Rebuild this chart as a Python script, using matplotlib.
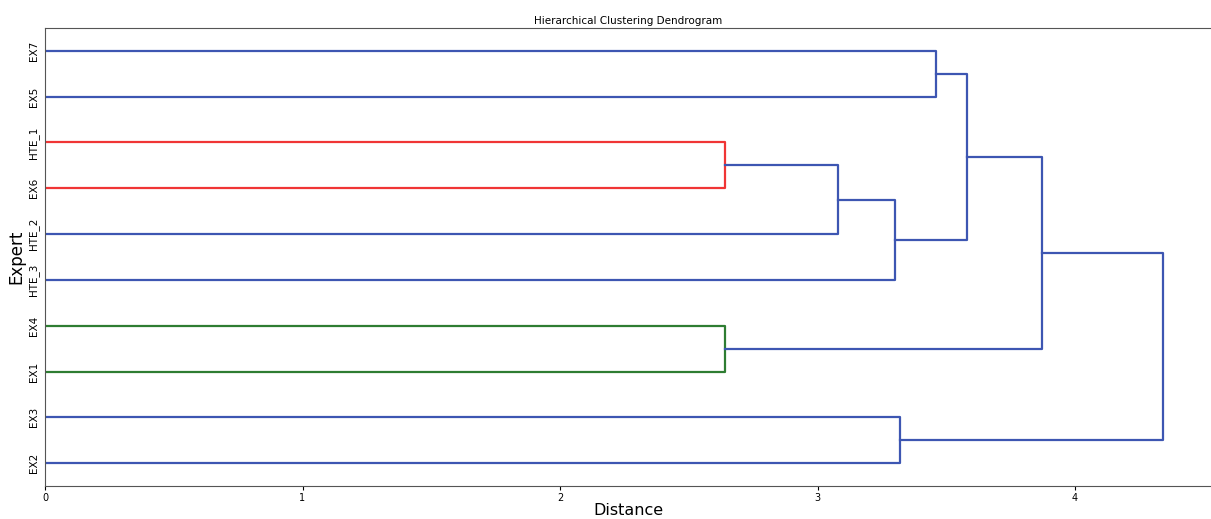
import numpy as np
import matplotlib
matplotlib.use("Agg")
import matplotlib.pyplot as plt

# leaf names (index = leaf id)
labels = ['EX1', 'EX2', 'EX3', 'EX4', 'EX5', 'EX6', 'EX7', 'HTE_1', 'HTE_2', 'HTE_3']

# merges like a linkage matrix: (lower child, upper child, distance)
# new cluster ids start at len(labels)
merge_a = [5, 0, 8, 9, 1, 4, 13, 11, 14]
merge_b = [7, 3, 10, 12, 2, 6, 15, 16, 17]
merge_d = [2.64, 2.64, 3.08, 3.30, 3.32, 3.46, 3.58, 3.87, 4.34]
merge_col = ['#f03535', '#2e7d32', '#3d56b2', '#3d56b2', '#3d56b2',
             '#3d56b2', '#3d56b2', '#3d56b2', '#3d56b2']

n = len(labels)

# figure out where every leaf goes (bottom -> top), like scipy does
pos = {}
height = {}
order = []


def place(node):
    if node < n:
        y = 5 + 10 * len(order)
        order.append(node)
        pos[node] = y
        height[node] = 0.0
        return y
    k = node - n
    ya = place(merge_a[k])
    yb = place(merge_b[k])
    pos[node] = (ya + yb) / 2
    height[node] = merge_d[k]
    return pos[node]


root = n + len(merge_d) - 1
place(root)

fig = plt.figure(figsize=(12.11, 5.19), dpi=100)
ax = fig.add_axes([45 / 1211, 1 - 486 / 519, 1 - 45 / 1211, 458 / 519])

for k in range(len(merge_d)):
    a, b = merge_a[k], merge_b[k]
    d = merge_d[k]
    xs = [height[a], d, d, height[b]]
    ys = [pos[a], pos[a], pos[b], pos[b]]
    ax.plot(xs, ys, color=merge_col[k], lw=1.6)

ax.set_ylim(0, 10 * n)
ax.set_xlim(0, (1211 - 45) / 257.5)
ax.set_yticks([5 + 10 * i for i in range(n)])
ax.set_yticklabels([labels[i] for i in order], rotation=90, va='center', fontsize=7.5)
ax.set_xticks([0, 1, 2, 3, 4])
ax.tick_params(axis='x', labelsize=7, length=3, pad=2)
ax.tick_params(axis='y', length=0, pad=4)
ax.spines['right'].set_visible(False)
for s in ['top', 'bottom', 'left']:
    ax.spines[s].set_color('#555555')

ax.set_title('Hierarchical Clustering Dendrogram', fontsize=7.5, pad=3)
ax.set_xlabel('Distance', fontsize=11.5, labelpad=0)
ax.set_ylabel('Expert', fontsize=12, labelpad=2)

fig.savefig('out.png', dpi=100)
